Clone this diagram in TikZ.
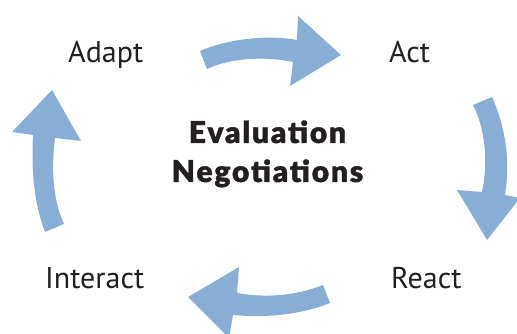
\documentclass[tikz,border=0pt]{standalone}
\usepackage{fontspec}
\setmainfont{PT Sans}
\newfontfamily\heavyfont{Lato Black}[LetterSpace=6,FakeBold=1.2]
\definecolor{arrowblue}{HTML}{89AED5}
\definecolor{inkdark}{HTML}{231F20}
\tikzset{
  cyclearrow/.style={fill=arrowblue, draw=none},
  steplabel/.style={anchor=base west, inner sep=0pt, text=inkdark, font=\fontsize{30}{30}\selectfont},
  centerlabel/.style={anchor=base, inner sep=0pt, text=inkdark, font=\heavyfont\fontsize{30}{30}\selectfont}
}
\begin{document}
\begin{tikzpicture}[x=1pt,y=-1pt]
\useasboundingbox (0,0) rectangle (517,334);
\begin{scope}
\clip (0,0) rectangle (517,334);
% top arrow (Adapt -> Act)
\fill[cyclearrow] (200,51) .. controls (225,40) and (265,34) .. (297,40)
  -- (298,16) -- (341,55) -- (290,86) -- (293,62)
  .. controls (265,56) and (230,58) .. (207,69) -- cycle;
% right arrow (Act -> React)
\fill[cyclearrow] (473,105) -- (492,97) .. controls (507,130) and (510,165) .. (505,195)
  -- (520,198) -- (487,240) -- (457,190) -- (482,192)
  .. controls (488,165) and (486,130) .. (473,105) -- cycle;
% bottom arrow (React -> Interact)
\fill[cyclearrow] (323,285) -- (330,303) .. controls (300,315) and (265,318) .. (233,315)
  -- (229,338) -- (188,297) -- (239,267) -- (237,293)
  .. controls (265,298) and (295,296) .. (323,285) -- cycle;
% left arrow (Interact -> Adapt)
\fill[cyclearrow] (45,232) .. controls (35,205) and (31,175) .. (33,135)
  -- (12,132) -- (52,90) -- (81,141) -- (55,138)
  .. controls (51,170) and (53,200) .. (64,224) -- cycle;
\end{scope}
\node[steplabel] (adapt) at (68,63) {Adapt};
\node[steplabel] (act) at (389,63) {Act};
\node[steplabel] (interact) at (45,288) {Interact};
\node[steplabel] (react) at (391,288) {React};
\node[centerlabel] (eval) at (267.5,143) {Evaluation};
\node[centerlabel] (nego) at (267.5,182) {Negotiations};
\end{tikzpicture}
\end{document}
